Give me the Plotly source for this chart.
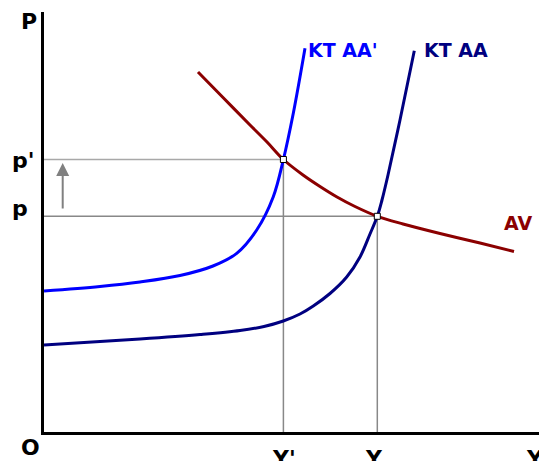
import plotly.graph_objects as go

# Values (arbitrary diagram units)
kt_aa_x = [0, 96, 156, 196, 220, 239.3, 256, 269.3, 286, 302.7, 316, 326, 333.3, 338, 344, 356, 370.3]
kt_aa_y = [87, 93, 97.5, 101.5, 105.5, 111, 118, 126, 138.5, 155, 175, 198, 215.7, 232, 257, 312, 381.3]

kt_aa2_x = [0, 56, 96, 136, 169, 192.7, 212.7, 229.3, 239.4, 249.3, 261]
kt_aa2_y = [141, 145.5, 150, 156.5, 166, 178.7, 202, 235.3, 272.5, 318.7, 383.7]

av_x = [154, 179, 206, 223, 239.4, 259, 276, 293, 311, 333.3, 359, 396, 436, 470]
av_y = [360, 334.5, 307, 290, 272.5, 257, 245.5, 235, 225.5, 215.7, 208, 198.5, 189, 180.5]

eq_y = [239.4, 333.3]    # Y', Y
eq_p = [272.5, 215.7]    # p', p
eq_ylabels = ["Y'", "Y"]
eq_plabels = ["p'", "p"]

NAVY = "#000080"
BLUE = "#0000ff"
RED = "#8b0000"
FONT = "DejaVu Sans"

fig = go.Figure()

# guide lines
guide_cols = ["#a8a8a8", "#888888"]
for yv, pv, gc in zip(eq_y, eq_p, guide_cols):
    fig.add_trace(go.Scatter(x=[0, yv], y=[pv, pv], mode="lines",
                             line=dict(color=gc, width=1.5), hoverinfo="skip"))
    fig.add_trace(go.Scatter(x=[yv, yv], y=[0, pv], mode="lines",
                             line=dict(color="#888888", width=1.5), hoverinfo="skip"))

fig.add_trace(go.Scatter(x=kt_aa2_x, y=kt_aa2_y, mode="lines", line_shape="spline",
                         line=dict(color=BLUE, width=3, smoothing=1.0)))
fig.add_trace(go.Scatter(x=kt_aa_x, y=kt_aa_y, mode="lines", line_shape="spline",
                         line=dict(color=NAVY, width=3, smoothing=1.0)))
fig.add_trace(go.Scatter(x=av_x, y=av_y, mode="lines", line_shape="spline",
                         line=dict(color=RED, width=3, smoothing=1.0)))
fig.add_trace(go.Scatter(x=eq_y, y=eq_p, mode="markers",
                         marker=dict(symbol="square", size=6, color="white",
                                     line=dict(color="black", width=1))))

ann = []
def lab(text, x, y, size, color="black", xanchor="center", yanchor="middle"):
    ann.append(dict(text=f"<b>{text}</b>", x=x, y=y, xref="paper", yref="paper",
                    showarrow=False, xanchor=xanchor, yanchor=yanchor,
                    font=dict(family=FONT, size=size, color=color)))

lab("P", -0.0295, 0.977, 22)
lab("O", -0.0263, -0.036, 22)
lab(eq_plabels[0], -0.0687, 0.6464, 22, xanchor="left")
lab(eq_plabels[1], -0.0687, 0.531, 22, xanchor="left")
lab(eq_ylabels[0], 0.4848, -0.0276, 22, yanchor="top")
lab(eq_ylabels[1], 0.6661, -0.0276, 22, yanchor="top")
lab("Y", 0.992, -0.0276, 22, yanchor="top")
lab("KT AA'", 0.604, 0.910, 19, color=BLUE)
lab("KT AA", 0.832, 0.910, 19, color=NAVY)
lab("AV", 0.9566, 0.4976, 19, color=RED)

ann.append(dict(x=18.7, y=269, ax=18.7, ay=222, xref="x", yref="y",
                axref="x", ayref="y", text="", showarrow=True,
                arrowhead=2, arrowsize=1.3, arrowwidth=2, arrowcolor="#808080"))

fig.update_layout(
    width=539, height=461,
    margin=dict(l=44, r=0, t=12, b=29),
    paper_bgcolor="white", plot_bgcolor="white",
    showlegend=False,
    annotations=ann,
    xaxis=dict(range=[0, 495], showgrid=False, zeroline=False, showticklabels=False,
               ticks="", showline=True, linecolor="black", linewidth=3, fixedrange=True),
    yaxis=dict(range=[0, 420], showgrid=False, zeroline=False, showticklabels=False,
               ticks="", showline=True, linecolor="black", linewidth=3, fixedrange=True),
)

fig.write_html("out.html", config={"displayModeBar": False},
               post_script="document.body.style.margin='0';document.body.style.overflow='hidden';")
